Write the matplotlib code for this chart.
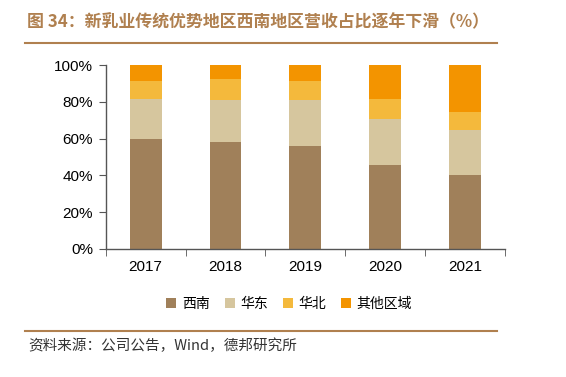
import matplotlib
matplotlib.use('Agg')
import numpy as np
import matplotlib.pyplot as plt

plt.rcParams['font.family'] = ['Noto Sans CJK SC', 'DejaVu Sans']

years = ['2017', '2018', '2019', '2020', '2021']
regions = ['西南', '华东', '华北', '其他区域']
xinan = [59.8, 58.2, 56.0, 45.6, 40.2]
huadong = [21.7, 22.7, 25.1, 25.1, 24.5]
huabei = [9.9, 11.6, 10.5, 10.8, 9.8]
qita = [8.6, 7.5, 8.4, 18.5, 25.5]
colors = ['#A0805A', '#D6C69E', '#F4B93C', '#F39400']

fig = plt.figure(figsize=(5.66, 3.77), dpi=100)
ax = fig.add_axes([0.1868, 0.3403, 0.7052, 0.4865])

x = np.arange(len(years))
bottom = np.zeros(len(years))
for name, vals, c in zip(regions, [xinan, huadong, huabei, qita], colors):
    ax.bar(x, vals, width=0.4, bottom=bottom, color=c, label=name)
    bottom += np.array(vals)

ax.set_xlim(-0.5, len(years) - 0.5)
ax.set_ylim(0, 100)
ax.set_yticks(range(0, 101, 20))
ax.set_yticklabels([f'{v}%' for v in range(0, 101, 20)], fontsize=11, family='Liberation Sans')
ax.set_xticks(x)
ax.set_xticklabels(years, fontsize=11, family='Liberation Sans')
ax.set_xticks(np.arange(-0.5, len(years)), minor=True)
ax.tick_params(axis='x', which='major', length=0, pad=8)
ax.tick_params(axis='x', which='minor', length=5, color='#555555', direction='out')
ax.tick_params(axis='y', length=5, color='#555555', direction='out', pad=4)
for s in ['top', 'right']:
    ax.spines[s].set_visible(False)
for s in ['left', 'bottom']:
    ax.spines[s].set_color('#555555')
    ax.spines[s].set_linewidth(1)

ax.legend(loc='center', bbox_to_anchor=(0.46, -0.3), ncol=4, frameon=False,
          fontsize=10, handlelength=0.7, handleheight=0.7, handletextpad=0.4,
          columnspacing=1.1)

brown = '#B0804F'
fig.text(27 / 566, 1 - 22 / 377, '图 34：新乳业传统优势地区西南地区营收占比逐年下滑（%）',
         fontsize=12.2, fontweight='bold', color=brown, va='center', ha='left')
fig.add_artist(plt.Line2D([25 / 566, 497 / 566], [1 - 43 / 377, 1 - 43 / 377],
                          color=brown, lw=1.5))
fig.add_artist(plt.Line2D([25 / 566, 497 / 566], [1 - 331 / 377, 1 - 331 / 377],
                          color=brown, lw=1.5))
fig.text(28 / 566, 1 - 346 / 377, '资料来源：公司公告，Wind，德邦研究所',
         fontsize=10.5, color='#333333', va='center', ha='left')

fig.savefig('out.png', dpi=100)
